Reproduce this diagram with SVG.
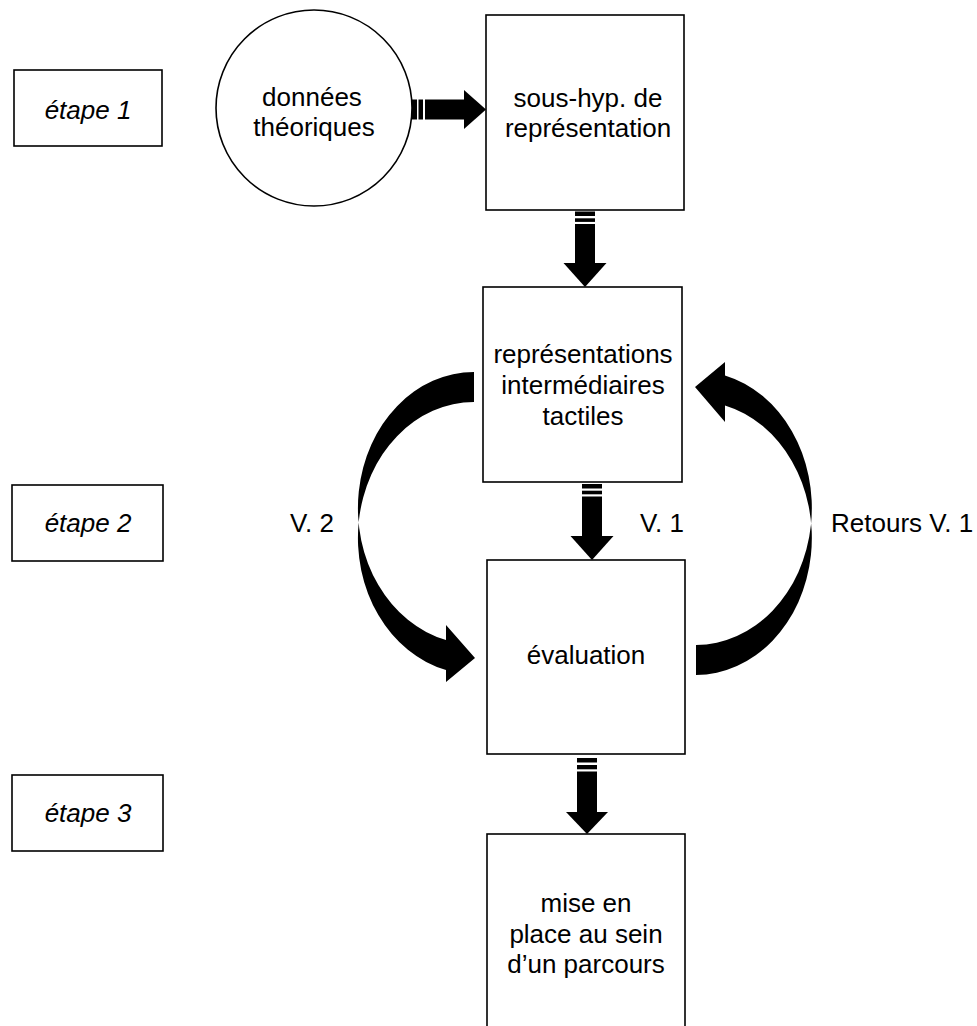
<svg xmlns="http://www.w3.org/2000/svg" width="977" height="1026" viewBox="0 0 977 1026">
<style>
.box{fill:#fff;stroke:#000;stroke-width:1.6}
.t{font-family:"Liberation Sans",Arial,sans-serif;font-size:26px;fill:#000;text-anchor:middle}
.it{font-style:italic}
.lbl{font-family:"Liberation Sans",Arial,sans-serif;font-size:26px;fill:#000}
.ar{fill:#000;stroke:none}
</style>
<rect width="977" height="1026" fill="#fff"/>
<g id="etape1">
<rect class="box" x="14" y="70" width="148" height="76"/>
<text class="t it" x="88" y="119">étape 1</text>
</g>
<g id="etape2">
<rect class="box" x="12" y="485" width="151" height="76"/>
<text class="t it" x="88" y="532">étape 2</text>
</g>
<g id="etape3">
<rect class="box" x="12" y="775" width="151" height="76"/>
<text class="t it" x="88" y="822">étape 3</text>
</g>
<g id="donnees">
<circle class="box" cx="314" cy="108" r="98"/>
<text class="t" x="312" y="106">données</text>
<text class="t" x="314" y="136">théoriques</text>
</g>
<g id="soushyp">
<rect class="box" x="486" y="15" width="198" height="195"/>
<text class="t" x="588" y="107">sous-hyp. de</text>
<text class="t" x="588" y="137">représentation</text>
</g>
<g id="representations">
<rect class="box" x="483" y="287" width="199" height="195"/>
<text class="t" x="583" y="363">représentations</text>
<text class="t" x="583" y="394">intermédiaires</text>
<text class="t" x="583" y="425">tactiles</text>
</g>
<g id="evaluation">
<rect class="box" x="487" y="560" width="198" height="194"/>
<text class="t" x="586" y="664">évaluation</text>
</g>
<g id="miseenplace">
<rect class="box" x="487" y="834" width="198" height="210"/>
<text class="t" x="586" y="912">mise en</text>
<text class="t" x="586" y="943">place au sein</text>
<text class="t" x="586" y="973">d’un parcours</text>
</g>
<g id="connectors">
<g id="a-donnees-soushyp" class="ar">
<rect x="412" y="99.5" width="5" height="20"/>
<rect x="418.5" y="99.5" width="4.5" height="20"/>
<rect x="425" y="99.5" width="40" height="20"/>
<polygon points="464,90 486,109.5 464,129"/>
</g>
<g id="a-soushyp-rep" class="ar">
<rect x="575" y="211.5" width="20" height="4.5"/>
<rect x="575" y="218.3" width="20" height="3.6"/>
<rect x="575" y="224" width="20" height="40"/>
<polygon points="563.5,263 606.5,263 585,287"/>
</g>
<g id="a-rep-eval-v1" class="ar">
<rect x="582" y="484" width="20" height="4.5"/>
<rect x="582" y="490.7" width="20" height="3.6"/>
<rect x="582" y="496.5" width="20" height="40"/>
<polygon points="570.5,536 613.5,536 592,560"/>
</g>
<g id="a-eval-mise" class="ar">
<rect x="577" y="758" width="20" height="4.5"/>
<rect x="577" y="765" width="20" height="4.3"/>
<rect x="577" y="771.5" width="20" height="41"/>
<polygon points="566,812 608,812 587,834"/>
</g>
<path id="a-v2" class="ar" d="M474,372 A116,136 0 0 0 446,640 L446,625 L475,658 L446,682 L446,670 A116,136 0 0 1 474,402 Z"/>
<path id="a-retours" class="ar" d="M696,675 A116,137 0 0 0 725,405.4 L725,422 L695,387 L725,362 L725,375.4 A116,137 0 0 1 696,645 Z"/>
<text class="lbl" x="290" y="532">V. 2</text>
<text class="lbl" x="640" y="532">V. 1</text>
<text class="lbl" x="831" y="532">Retours V. 1</text>
</g>
</svg>
